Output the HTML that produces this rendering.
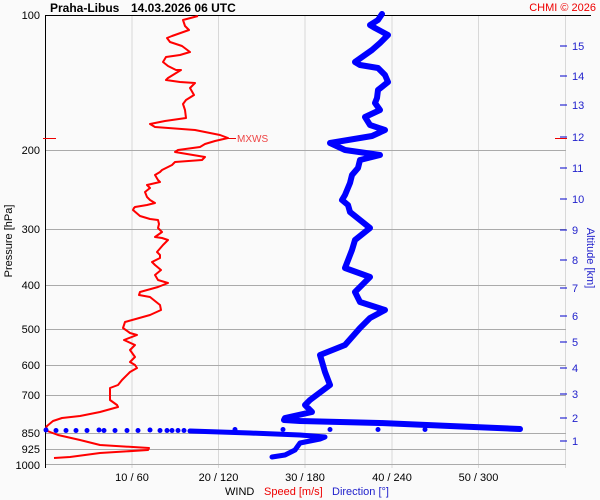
<!DOCTYPE html>
<html><head><meta charset="utf-8"><style>
html,body{margin:0;padding:0;background:#fafafa;}
svg{display:block;font-family:"Liberation Sans",Arial,sans-serif;}
</style></head><body>
<svg width="600" height="500" viewBox="0 0 600 500" xmlns="http://www.w3.org/2000/svg">
<rect width="600" height="500" fill="#fafafa"/>
<g stroke="#d8d8d8" stroke-width="1">
<line x1="132" y1="15" x2="132" y2="468"/>
<line x1="218.5" y1="15" x2="218.5" y2="468"/>
<line x1="305" y1="15" x2="305" y2="468"/>
<line x1="392" y1="15" x2="392" y2="468"/>
<line x1="478.5" y1="15" x2="478.5" y2="468"/>
<line x1="565.5" y1="15" x2="565.5" y2="468"/>
</g>
<g stroke="#aaa" stroke-width="1">
<line x1="45" y1="150.5" x2="566" y2="150.5"/>
<line x1="45" y1="229.5" x2="566" y2="229.5"/>
<line x1="45" y1="285.5" x2="566" y2="285.5"/>
<line x1="45" y1="329.5" x2="566" y2="329.5"/>
<line x1="45" y1="365.5" x2="566" y2="365.5"/>
<line x1="45" y1="395.5" x2="566" y2="395.5"/>
<line x1="45" y1="433.5" x2="566" y2="433.5"/>
<line x1="45" y1="449.5" x2="566" y2="449.5"/>
<line x1="45" y1="464.5" x2="566" y2="464.5"/>
</g>
<line x1="45" y1="15.5" x2="591" y2="15.5" stroke="#000"/>
<line x1="45.5" y1="15" x2="45.5" y2="468" stroke="#000"/>
<text x="50" y="12" font-size="12" font-weight="bold" fill="#000">Praha-Libus</text>
<text x="131" y="12" font-size="12" font-weight="bold" fill="#000">14.03.2026 06 UTC</text>
<text x="596" y="11" font-size="11" fill="#e00" text-anchor="end">CHMI © 2026</text>
<g font-size="11" fill="#000" text-anchor="end">
<text x="40" y="19">100</text>
<text x="40" y="154">200</text>
<text x="40" y="233">300</text>
<text x="40" y="289">400</text>
<text x="40" y="333">500</text>
<text x="40" y="369">600</text>
<text x="40" y="399">700</text>
<text x="40" y="437">850</text>
<text x="40" y="453">925</text>
<text x="40" y="469">1000</text>
</g>
<text transform="translate(12,241) rotate(-90)" font-size="11" text-anchor="middle" fill="#000">Pressure [hPa]</text>
<g stroke="#00c" stroke-width="1">
<line x1="560" y1="46" x2="567" y2="46"/><line x1="560" y1="76" x2="567" y2="76"/>
<line x1="560" y1="105" x2="567" y2="105"/><line x1="560" y1="137" x2="567" y2="137"/>
<line x1="560" y1="168" x2="567" y2="168"/><line x1="560" y1="199" x2="567" y2="199"/>
<line x1="560" y1="230" x2="567" y2="230"/><line x1="560" y1="260" x2="567" y2="260"/>
<line x1="560" y1="288" x2="567" y2="288"/><line x1="560" y1="316" x2="567" y2="316"/>
<line x1="560" y1="342" x2="567" y2="342"/><line x1="560" y1="368" x2="567" y2="368"/>
<line x1="560" y1="394" x2="567" y2="394"/><line x1="560" y1="418" x2="567" y2="418"/>
<line x1="560" y1="441" x2="567" y2="441"/>
</g>
<g font-size="11" fill="#22c">
<text x="572" y="50">15</text><text x="572" y="80">14</text><text x="572" y="109">13</text>
<text x="572" y="141">12</text><text x="572" y="172">11</text><text x="572" y="203">10</text>
<text x="572" y="234">9</text><text x="572" y="264">8</text><text x="572" y="292">7</text>
<text x="572" y="320">6</text><text x="572" y="346">5</text><text x="572" y="372">4</text>
<text x="572" y="398">3</text><text x="572" y="422">2</text><text x="572" y="445">1</text>
</g>
<text transform="translate(587,258) rotate(90)" font-size="11" text-anchor="middle" fill="#22c">Altitude [km]</text>
<g font-size="11" fill="#000" text-anchor="middle">
<text x="132" y="481">10 / 60</text>
<text x="218.5" y="481">20 / 120</text>
<text x="305" y="481">30 / 180</text>
<text x="392" y="481">40 / 240</text>
<text x="478.5" y="481">50 / 300</text>
</g>
<text x="225" y="495" font-size="11" fill="#000">WIND</text>
<text x="264" y="495" font-size="11" fill="#e00">Speed [m/s]</text>
<text x="332" y="495" font-size="11" fill="#22c">Direction [°]</text>
<line x1="43" y1="138.5" x2="56" y2="138.5" stroke="#e00"/>
<line x1="555" y1="138.5" x2="567" y2="138.5" stroke="#e00"/>
<line x1="228" y1="138.5" x2="236" y2="138.5" stroke="#e00"/>
<text x="237" y="142" font-size="10" fill="#e44">MXWS</text>
<polyline fill="none" stroke="#f00" stroke-width="2" stroke-linejoin="round" points="198,16 183,20 185,26 189,30 172,36 167,38 170,42 182,46 190,52 180,55 166,57 163,62 168,66 176,70 181,70 168,78 166,80 180,82 195,83 190,88 194,95 186,100 183,104 185,110 186,118 165,121 150,124 155,127 195,130 220,135 228,138 215,141 205,144 200,147 178,150 175,152 205,157 202,160 175,162 172,165 162,170 160,172 155,175 158,180 160,182 147,185 150,188 145,192 147,197 150,200 155,203 147,205 135,207 134,208 133,210 140,216 150,219 158,220 159,224 158,228 162,232 155,237 162,238 168,240 163,245 157,252 160,255 160,258 152,262 155,265 161,270 155,275 158,280 168,283 158,287 140,292 139,295 150,297 155,301 160,305 161,310 150,315 125,322 123,328 130,333 137,335 124,340 135,345 130,350 135,357 130,362 135,365 137,368 130,372 122,380 118,385 110,388 110,395 110,400 117,405 118,407 100,412 80,416 62,418 53,421 47,426 45,430 50,432 58,435 80,440 100,445 149,448 148,450 100,453 70,457 54,458"/>
<g fill="none" stroke="#00f" stroke-linejoin="round" stroke-linecap="round">
<polyline stroke-width="6" points="382,14 378,20 370,25 375,28 388,35 380,43 372,50 355,62 360,65 378,68 385,75 388,82 378,90 377,98 375,103 380,110 365,117 370,125 385,130 372,136 330,143 345,150 380,155 360,160 358,168 352,175 350,183 345,195 342,200 348,205 350,212 370,228 355,240 352,250 345,268 370,277 355,292 360,302 385,310 370,318 360,328 345,345 320,355 325,372 330,385 310,400 305,405 312,412 285,418 284,420 300,421 380,423 450,426 520,429"/>
<polyline stroke-width="5" points="190,431 250,433 300,435 325,437 320,439 300,443 295,450 285,455 272,457"/>
</g>
<g fill="#00f">
<circle cx="46" cy="430" r="2.5"/><circle cx="56" cy="430.5" r="2.5"/><circle cx="66" cy="430.5" r="2.5"/>
<circle cx="76" cy="430.5" r="2.5"/><circle cx="87" cy="430.5" r="2.5"/><circle cx="99" cy="430" r="2.5"/>
<circle cx="104" cy="430.5" r="2.5"/><circle cx="115" cy="430.5" r="2.5"/><circle cx="127" cy="430.5" r="2.5"/>
<circle cx="138" cy="430.5" r="2.5"/><circle cx="150" cy="430" r="2.5"/><circle cx="160" cy="430.5" r="2.5"/>
<circle cx="167" cy="430.5" r="2.5"/><circle cx="172" cy="430.5" r="2.5"/><circle cx="178" cy="430.5" r="2.5"/>
<circle cx="184" cy="430.5" r="2.5"/><circle cx="235" cy="429.5" r="2.5"/><circle cx="283" cy="429.5" r="2.5"/>
<circle cx="330" cy="429.5" r="2.5"/><circle cx="378" cy="429.5" r="2.5"/><circle cx="425" cy="429.5" r="2.5"/>
</g>
</svg>
</body></html>
